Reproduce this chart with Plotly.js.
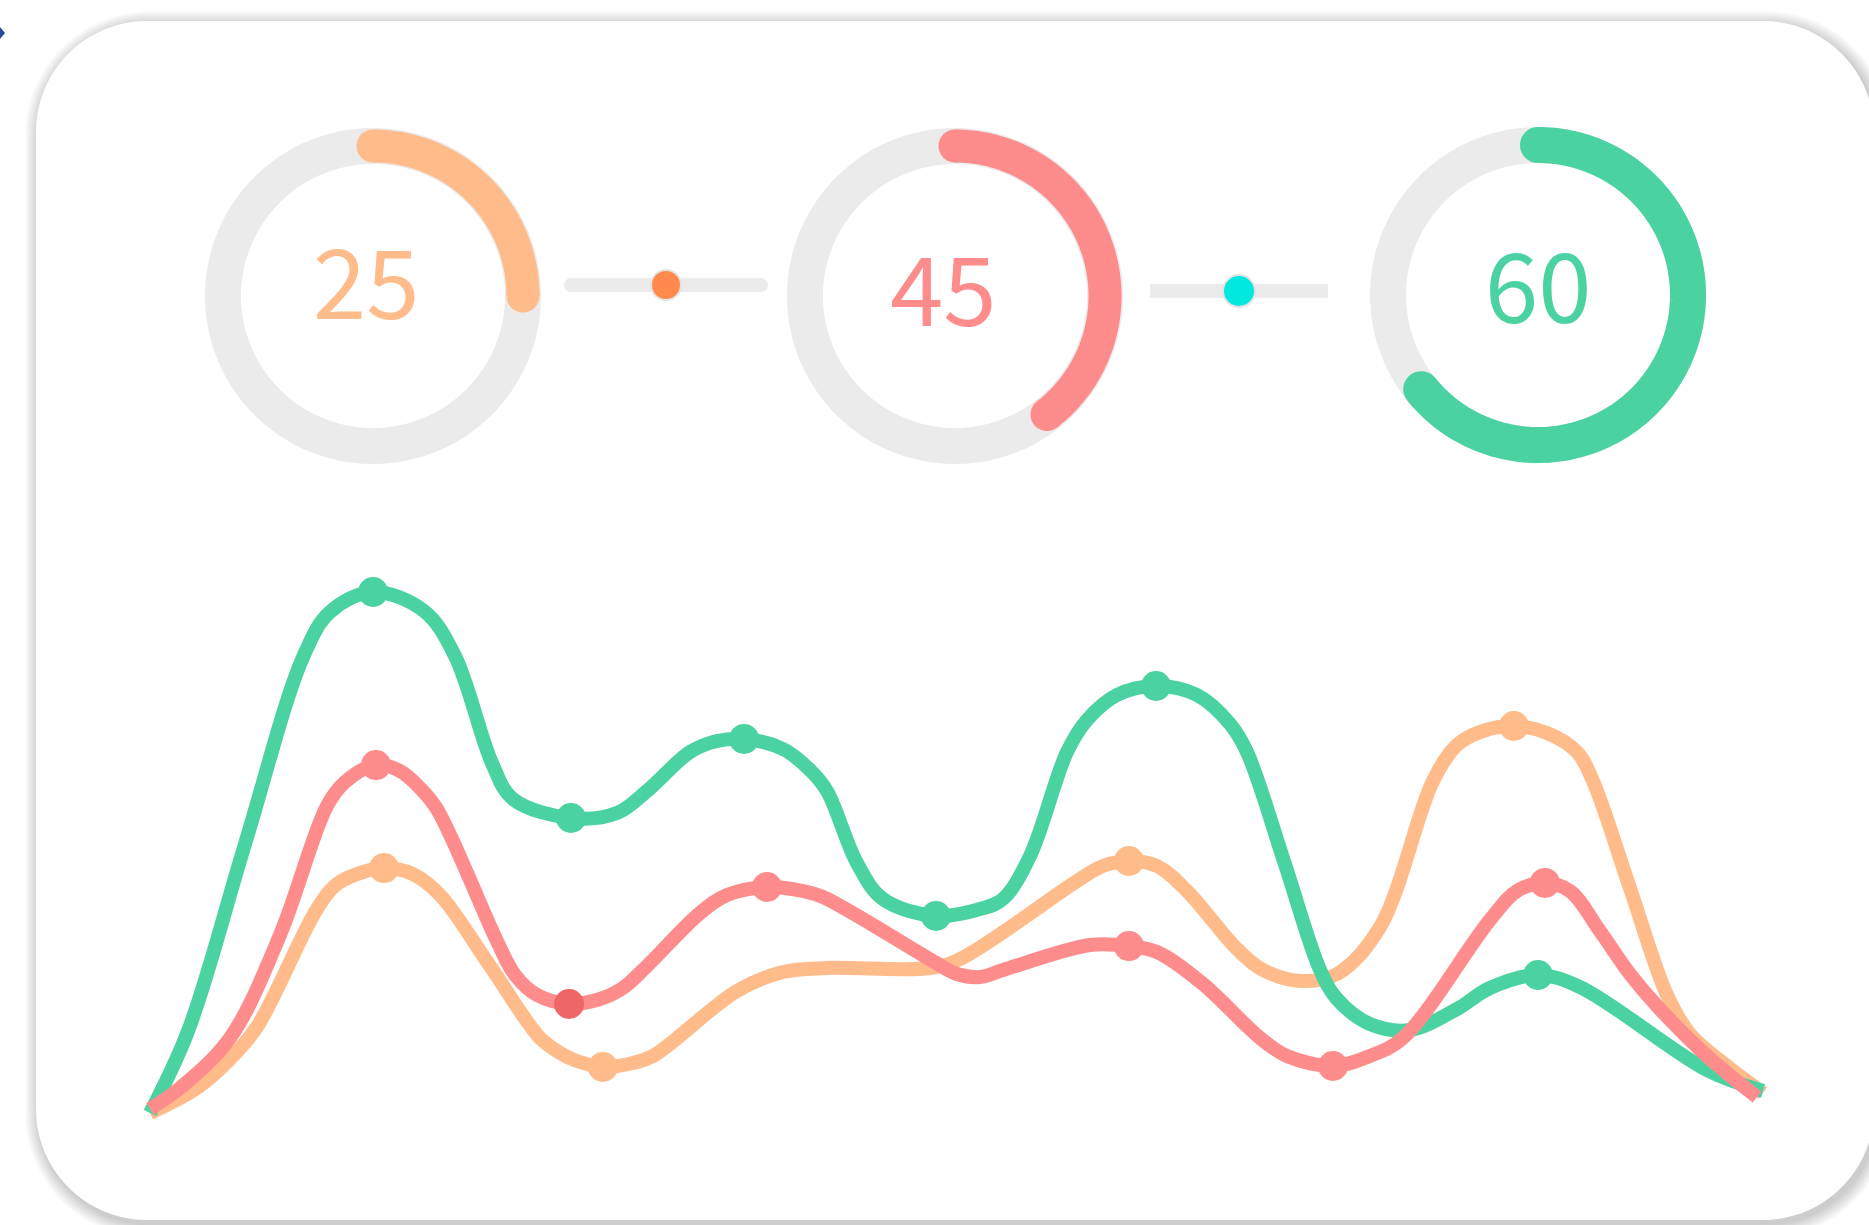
<!DOCTYPE html>
<html><head><meta charset="utf-8">
<script src="https://cdn.plot.ly/plotly-3.0.1.min.js"></script>
<style>html,body{margin:0;padding:0;background:#fff;overflow:hidden}</style>
</head><body><div id="chart" style="width:1869px;height:1225px"></div>
<script>
// ---------------- data ----------------
const gaugeLabels = ['25', '45', '60'];
const gaugeFill = [0.25, 0.395, 0.642];      // share of each ring that is filled
const sliderValues = [50, 50];               // knob position, % of track

// line chart (x: 0-100, y: 0-100)
const greenX = [0, 2.36, 5.89, 9.49, 11.16, 13.83, 16.99, 18.91, 21.20, 22.50, 26.10, 28.95, 30.81, 33.48, 35.15, 36.83, 39.24, 40.92, 41.97, 43.83, 45.44, 48.73, 51.46, 52.88, 54.56, 56.85, 58.09, 59.95, 62.37, 64.91, 66.96, 68.01, 70.30, 72.54, 73.59, 75.63, 78.12, 81.03, 83.07, 86.05, 88.66, 96.53, 100];
const greenY = [0, 15.74, 51.63, 87.52, 96.16, 100.0, 96.35, 87.72, 67.18, 60.27, 56.62, 57.58, 61.80, 69.29, 71.40, 71.79, 69.87, 65.83, 61.80, 47.98, 41.07, 37.81, 39.16, 41.07, 49.33, 69.29, 75.43, 80.23, 81.96, 80.23, 74.66, 69.29, 48.37, 27.45, 21.88, 17.08, 15.93, 19.96, 23.99, 26.49, 24.18, 8.25, 4.22];
const greenMarked = [5, 10, 15, 21, 28, 39];

const salmonX = [0, 1.86, 4.96, 8.06, 10.97, 12.09, 14.01, 15.50, 16.74, 17.79, 21.51, 22.63, 23.99, 25.98, 27.90, 29.32, 30.81, 34.10, 35.77, 38.25, 40.48, 41.72, 48.54, 50.03, 51.46, 52.88, 58.28, 60.69, 62.43, 65.28, 68.82, 70.49, 73.34, 75.63, 77.68, 83.07, 84.75, 86.48, 88.03, 89.89, 91.75, 93.43, 96.53, 99.63];
const salmonY = [0.77, 4.80, 14.40, 34.17, 58.93, 63.53, 66.79, 65.64, 62.38, 58.35, 33.01, 26.49, 22.65, 20.92, 21.88, 23.99, 28.21, 38.39, 41.84, 43.38, 42.61, 41.46, 29.17, 26.68, 26.10, 27.45, 32.25, 32.05, 30.90, 24.76, 14.40, 10.94, 9.02, 10.94, 14.40, 37.04, 42.61, 44.15, 42.61, 34.93, 26.68, 20.54, 10.94, 3.07];
const salmonMarked = [6, 13, 19, 27, 32, 37];
const salmonHighlight = [13];

const peachX = [0, 2.91, 4.96, 6.63, 10.35, 11.59, 13.21, 14.51, 16.30, 17.98, 21.08, 24.18, 25.42, 26.47, 28.08, 29.94, 31.18, 36.39, 39.24, 41.97, 48.36, 50.22, 57.66, 59.08, 60.69, 62.43, 64.29, 67.39, 69.00, 71.48, 73.59, 76.26, 79.54, 81.03, 82.64, 84.56, 86.61, 88.47, 89.46, 91.75, 94.05, 95.47, 97.52, 100];
const peachY = [0, 4.80, 10.36, 16.51, 39.16, 43.95, 46.26, 47.02, 45.87, 41.84, 28.21, 14.40, 11.52, 9.98, 8.83, 9.60, 10.94, 23.42, 27.06, 27.83, 27.83, 29.56, 44.91, 47.41, 48.37, 47.41, 42.61, 31.48, 27.45, 25.34, 26.68, 35.70, 63.72, 70.63, 73.32, 74.28, 72.94, 69.29, 63.72, 43.19, 22.65, 15.16, 9.60, 3.84];
const peachMarked = [7, 14, 24, 35];

// ---------------- styling / layout ----------------
const W = 1869, H = 1225;
const GREEN = '#4AD3A0', SALMON = '#FF8C8C', PEACH = '#FFBB8A', RING = '#EBEBEB';
const gaugeColors = [PEACH, SALMON, GREEN];
const gaugeCenters = [[373, 296], [955, 296], [1538, 295]];
const gaugeR = 150, ringW = 36, arcW = [33, 33, 36];
const textPos = [[366, 277], [943, 284], [1538, 281]];
const sliders = [
  {x0: 571, x1: 761, y: 285, round: true, knob: '#FF8A4C', size: 30},
  {x0: 1150, x1: 1328, y: 291, round: false, knob: '#00E8E0', size: 32}
];
// line-chart plot box: value 0..100 maps to px 150..1763 (x) and 1113..592 (y); padded so strokes are not clipped
const X0 = 150, X1 = 1763, Y0 = 1113, Y1 = 592, PADX = 6, PADY = 12;
const ux = (X1 - X0) / 100, uy = (Y0 - Y1) / 100;

const traces = [];
gaugeCenters.forEach(([cx, cy], i) => {
  const rx = [], ry = [];
  for (let k = 0; k <= 240; k++) {
    const a = k / 240 * 2 * Math.PI;
    rx.push(cx + gaugeR * Math.sin(a)); ry.push(cy - gaugeR * Math.cos(a));
  }
  traces.push({type: 'scatter', mode: 'lines', x: rx, y: ry, xaxis: 'x', yaxis: 'y',
    line: {color: RING, width: ringW, simplify: false}, hoverinfo: 'skip', cliponaxis: false});
  const ax = [], ay = [];
  const n = 160;
  for (let k = 0; k <= n; k++) {
    const a = k / n * gaugeFill[i] * 2 * Math.PI;
    ax.push(cx + gaugeR * Math.sin(a)); ay.push(cy - gaugeR * Math.cos(a));
  }
  traces.push({type: 'scatter', mode: 'lines', x: ax, y: ay, xaxis: 'x', yaxis: 'y',
    line: {color: gaugeColors[i], width: arcW[i], simplify: false}, hoverinfo: 'skip', cliponaxis: false});
  traces.push({type: 'scatter', mode: 'markers', x: [ax[0], ax[n]], y: [ay[0], ay[n]], xaxis: 'x', yaxis: 'y',
    marker: {color: gaugeColors[i], size: arcW[i], opacity: 1, line: {width: 0}}, hoverinfo: 'skip', cliponaxis: false});
});
sliders.forEach((s, i) => {
  traces.push({type: 'scatter', mode: s.round ? 'lines+markers' : 'lines', x: [s.x0, s.x1], y: [s.y, s.y],
    xaxis: 'x', yaxis: 'y', line: {color: RING, width: 14}, marker: {color: RING, size: 14, opacity: 1},
    hoverinfo: 'skip', cliponaxis: false});
  const kx = s.x0 + (s.x1 - s.x0) * sliderValues[i] / 100;
  traces.push({type: 'scatter', mode: 'markers', x: [kx], y: [s.y], xaxis: 'x', yaxis: 'y',
    marker: {color: s.knob, size: s.size, opacity: 1, line: {color: '#E4E4E4', width: 2}}, hoverinfo: 'skip', cliponaxis: false});
});

function series(xs, ys, color) {
  return {type: 'scatter', mode: 'lines', x: xs, y: ys, xaxis: 'x2', yaxis: 'y2',
    line: {color: color, width: 14, shape: 'spline', smoothing: 1, simplify: false},
    hoverinfo: 'skip', cliponaxis: false};
}
function marks(xs, ys, marked, color, highlight, hlColor) {
  return {type: 'scatter', mode: 'markers', x: marked.map(i => xs[i]), y: marked.map(i => ys[i]),
    xaxis: 'x2', yaxis: 'y2',
    marker: {size: 30, opacity: 1, color: marked.map(i => highlight.includes(i) ? hlColor : color), line: {width: 0}},
    hoverinfo: 'skip', cliponaxis: false};
}
traces.push(series(peachX, peachY, PEACH));
traces.push(marks(peachX, peachY, peachMarked, PEACH, [], PEACH));
traces.push(series(greenX, greenY, GREEN));
traces.push(marks(greenX, greenY, greenMarked, GREEN, [], GREEN));
traces.push(series(salmonX, salmonY, SALMON));
traces.push(marks(salmonX, salmonY, salmonMarked, SALMON, salmonHighlight, '#EE6666'));

function rr(x0, y0, x1, y1, r) {
  const k = 0.5523 * r;
  return `M ${x0 + r} ${y0} L ${x1 - r} ${y0} C ${x1 - r + k} ${y0} ${x1} ${y0 + r - k} ${x1} ${y0 + r} ` +
    `L ${x1} ${y1 - r} C ${x1} ${y1 - r + k} ${x1 - r + k} ${y1} ${x1 - r} ${y1} ` +
    `L ${x0 + r} ${y1} C ${x0 + r - k} ${y1} ${x0} ${y1 - r + k} ${x0} ${y1 - r} ` +
    `L ${x0} ${y0 + r} C ${x0} ${y0 + r - k} ${x0 + r - k} ${y0} ${x0 + r} ${y0} Z`;
}
const toPaper = p => p.replace(/(-?\d+\.?\d*) (-?\d+\.?\d*)/g, (m, a, b) => `${(+a / W).toFixed(5)} ${(1 - +b / H).toFixed(5)}`);
const shapes = [];
for (let i = 10; i >= 1; i--) {
  shapes.push({type: 'path', xref: 'paper', yref: 'paper', layer: 'below',
    path: toPaper(rr(36 - i * 1.4 + 3, 21 - i * 1.4 + 4, 1874 + i * 1.4 + 3, 1220 + i * 1.4 + 4, 111 + i * 1.4)),
    fillcolor: 'rgba(0,0,0,0.018)', line: {width: 0}});
}
shapes.push({type: 'path', xref: 'paper', yref: 'paper', layer: 'below',
  path: toPaper(rr(36, 21, 1874, 1220, 111)), fillcolor: '#FFFFFF', line: {width: 0}});
shapes.push({type: 'path', xref: 'paper', yref: 'paper', layer: 'below',
  path: `M 0 ${1 - 27 / H} L ${5 / W} ${1 - 33 / H} L 0 ${1 - 39 / H} Z`,
  fillcolor: '#2B4C9B', line: {width: 0}});

const annotations = gaugeLabels.map((t, i) => ({
  xref: 'x', yref: 'y', x: textPos[i][0], y: textPos[i][1], text: t, showarrow: false,
  xanchor: 'center', yanchor: 'middle',
  font: {family: '"Noto Sans CJK SC", "Noto Sans", sans-serif', size: 96, weight: 400, color: gaugeColors[i]}
}));

const hidden = {visible: false, showgrid: false, zeroline: false, fixedrange: true};
const layout = {
  width: W, height: H, margin: {l: 0, r: 0, t: 0, b: 0, pad: 0},
  paper_bgcolor: '#FFFFFF', plot_bgcolor: 'rgba(0,0,0,0)', showlegend: false,
  xaxis: Object.assign({domain: [0, 1], range: [0, W]}, hidden),
  yaxis: Object.assign({domain: [0, 1], range: [H, 0]}, hidden),
  xaxis2: Object.assign({domain: [(X0 - PADX * ux) / W, (X1 + PADX * ux) / W], range: [-PADX, 100 + PADX], anchor: 'y2'}, hidden),
  yaxis2: Object.assign({domain: [(H - Y0 - PADY * uy) / H, (H - Y1 + PADY * uy) / H], range: [-PADY, 100 + PADY], anchor: 'x2'}, hidden),
  shapes: shapes, annotations: annotations, hovermode: false
};
Plotly.newPlot('chart', traces, layout, {staticPlot: true, displayModeBar: false});
</script></body></html>
